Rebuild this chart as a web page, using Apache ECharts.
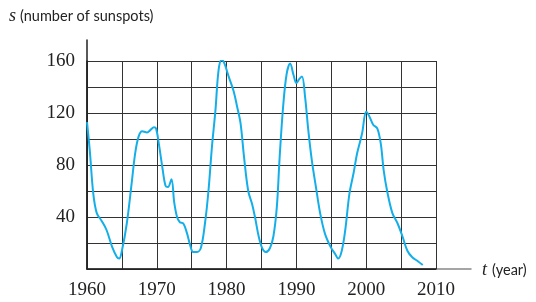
<!DOCTYPE html>
<html>
<head>
<meta charset="utf-8">
<script src="https://cdn.jsdelivr.net/npm/echarts@6/dist/echarts.min.js"></script>
<style>
    html, body { margin: 0; padding: 0; background: #fff; }
    #chart { width: 536px; height: 302px; }
</style>
</head>
<body>
<div id="chart"></div>
<script>
const years = [
    1960.0, 1960.4, 1960.9, 1961.4, 1962.1, 1962.8, 1963.6, 1964.3, 1964.6, 1965.0,
    1965.7, 1966.4, 1966.9, 1967.4, 1967.9, 1968.6, 1969.1, 1969.6, 1969.9, 1970.3,
    1970.8, 1971.25, 1971.6, 1972.1, 1972.5, 1972.9, 1973.3, 1973.8, 1974.3, 1974.8,
    1975.2, 1975.7, 1976.3, 1976.9, 1977.4, 1977.9, 1978.4, 1978.85, 1979.3, 1979.7,
    1980.3, 1981.0, 1981.5, 1982.0, 1982.5, 1983.1, 1983.65, 1984.1, 1984.6, 1985.1,
    1985.6, 1986.2, 1986.7, 1987.2, 1987.6, 1988.1, 1988.6, 1989.1, 1989.6, 1990.0,
    1990.4, 1990.8, 1991.25, 1991.7, 1992.2, 1992.8, 1993.4, 1994.1, 1994.9, 1995.5,
    1996.0, 1996.5, 1997.0, 1997.6, 1998.2, 1998.7, 1999.4, 2000.0, 2000.4, 2001.0,
    2001.6, 2002.1, 2002.5, 2003.0, 2003.75, 2004.5, 2005.2, 2005.9, 2006.6, 2007.4,
    2008.1
]
const sunspots = [
    113, 91, 58, 43, 37, 30, 17, 9, 8, 14,
    35, 66, 89, 102, 106, 105, 107, 109, 108, 96,
    78, 64, 63, 69, 51, 40, 36, 35, 28, 18,
    13, 13, 16, 35, 60, 94, 122, 153, 161, 158,
    148, 137, 125, 112, 86, 60, 50, 39, 25, 16,
    13, 16, 25, 48, 86, 125, 150, 158, 149, 143,
    146, 148, 132, 107, 84, 63, 43, 27, 17, 12,
    8, 14, 30, 58, 74, 89, 104, 121, 118, 111,
    108, 96, 76, 60, 43, 35, 25, 14, 9, 6,
    3
]
const xTicks = [1960, 1970, 1980, 1990, 2000, 2010]
const yTicks = [40, 80, 120, 160]

const serif = '"Liberation Serif", "DejaVu Serif", serif'
const sans = 'Lato, "Open Sans", sans-serif'

// small helper for the axis names (italic letter + sans text)
function label(text, left, top, italic){
    return {
        type: 'text', left: left, top: top,
        style: {
            text: text,
            fontFamily: italic ? serif : sans,
            fontStyle: italic ? 'italic' : 'normal',
            fontSize: italic ? 18 : 14.5,
            fill: '#222'
        }
    }
}

function drawChart(shell){
    const chart = echarts.init(shell, null, { renderer: 'canvas' })
    const option = {
        animation: false,
        grid: [
            { left: 87, top: 61, right: 100, bottom: 33 },
            { left: 87, top: 40, right: 65, bottom: 33 }
        ],
        xAxis: [
            {
                type: 'value', gridIndex: 0, min: 1960, max: 2010, interval: 5,
                axisLine: { show: true, lineStyle: { color: '#222', width: 1.5 } },
                axisTick: { show: false },
                splitLine: { show: true, lineStyle: { color: '#333', width: 1 } },
                axisLabel: {
                    margin: 12, fontFamily: serif, fontSize: 19, color: '#222',
                    formatter: (v) => xTicks.includes(v) ? String(v) : ''
                },
                z: 3
            },
            {
                type: 'value', gridIndex: 1, min: 0, max: 1,
                axisLine: { show: true, onZero: false, lineStyle: { color: '#888', width: 1.5 } },
                axisTick: { show: false }, axisLabel: { show: false }, splitLine: { show: false }
            }
        ],
        yAxis: [
            {
                type: 'value', gridIndex: 0, min: 0, max: 160, interval: 20,
                axisLine: { show: true, lineStyle: { color: '#222', width: 1.5 } },
                axisTick: { show: false },
                splitLine: { show: true, lineStyle: { color: '#333', width: 1 } },
                axisLabel: {
                    margin: 12, fontFamily: serif, fontSize: 19, color: '#222',
                    formatter: (v) => yTicks.includes(v) ? String(v) : ''
                },
                z: 3
            },
            {
                type: 'value', gridIndex: 1, min: 0, max: 1,
                axisLine: { show: true, onZero: false, lineStyle: { color: '#222', width: 1.5 } },
                axisTick: { show: false }, axisLabel: { show: false }, splitLine: { show: false }
            }
        ],
        series: [
            {
                type: 'line',
                xAxisIndex: 0,
                yAxisIndex: 0,
                data: years.map((y, i) => [y, sunspots[i]]),
                smooth: 0.35,
                showSymbol: false,
                lineStyle: { color: '#14aee8', width: 2 },
                z: 5
            }
        ],
        graphic: [
            label('s', 9, 7, true),
            label('(number of sunspots)', 20, 9, false),
            label('t', 482, 261, true),
            label('(year)', 492, 263, false)
        ]
    }
    chart.setOption(option)
    return chart
}

drawChart(document.getElementById('chart'))
</script>
</body>
</html>
